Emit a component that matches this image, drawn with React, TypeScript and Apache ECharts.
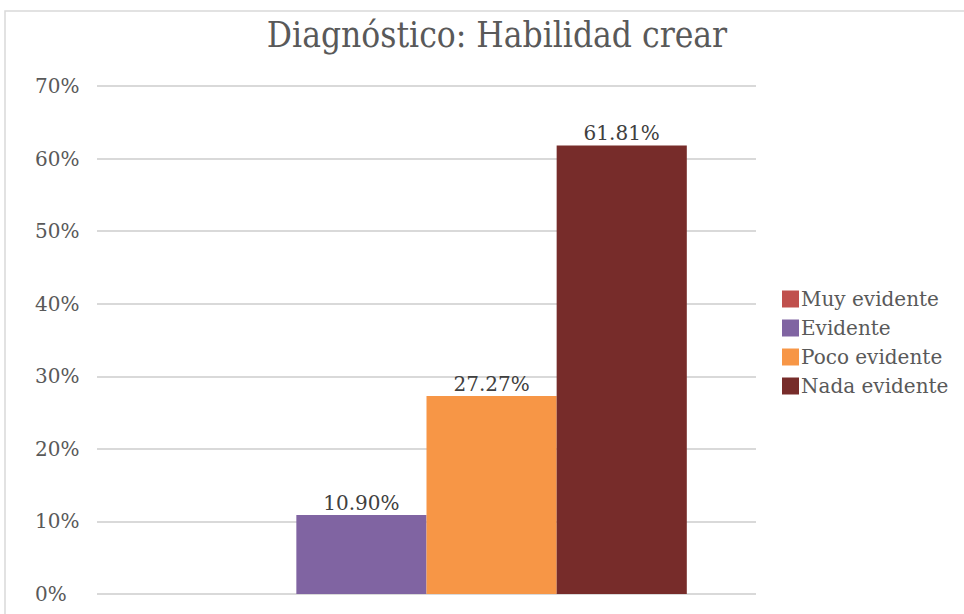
import React, { useEffect, useRef } from "react";
import * as echarts from "echarts";

const categories = [""];
const seriesNames = ["Muy evidente", "Evidente", "Poco evidente", "Nada evidente"];
const seriesValues = [0, 0.109, 0.2727, 0.6181];
const seriesColors = ["#C0504D", "#8064A2", "#F79646", "#772C2A"];
const titleText = "Diagnóstico: Habilidad crear";

const FONT = "'DejaVu Serif', serif";
const TITLE_FONT = "'DejaVu Serif Condensed', 'DejaVu Serif', serif";

export default function App() {
  const ref = useRef<HTMLDivElement>(null);
  useEffect(() => {
    if (!ref.current) return;
    const chart = echarts.init(ref.current, undefined, { renderer: "svg" });
    chart.setOption({
      animation: false,
      backgroundColor: "#ffffff",
      title: {
        text: titleText,
        left: 492,
        textAlign: "center",
        top: 12,
        textStyle: { fontFamily: TITLE_FONT, fontSize: 35, fontWeight: "normal", color: "#595959" },
      },
      graphic: [
        {
          type: "rect",
          shape: { x: 5, y: 11, width: 980, height: 620 },
          style: { fill: "none", stroke: "#d9d9d9", lineWidth: 1.5 },
          silent: true,
        },
      ],
      legend: {
        orient: "vertical",
        left: 777,
        top: 284,
        itemWidth: 17,
        itemHeight: 17,
        itemGap: 9,
        icon: "rect",
        textStyle: { fontFamily: FONT, fontSize: 20, color: "#595959", padding: [0, 0, 0, -3] },
        data: seriesNames,
      },
      grid: { left: 97, right: 208, top: 86, bottom: 20, containLabel: false },
      xAxis: {
        type: "category",
        data: categories,
        axisLine: { show: false },
        axisTick: { show: false },
        axisLabel: { show: false },
      },
      yAxis: {
        type: "value",
        min: 0,
        max: 0.7,
        interval: 0.1,
        axisLine: { show: false },
        axisTick: { show: false },
        axisLabel: {
          fontFamily: FONT,
          fontSize: 20,
          color: "#595959",
          margin: 62,
          align: "left",
          formatter: (v: number) => `${Math.round(v * 100)}%`,
        },
        splitLine: { lineStyle: { color: "#d9d9d9", width: 2 } },
      },
      series: seriesNames.map((name, i) => ({
        name,
        type: "bar",
        data: [seriesValues[i]],
        barGap: "0%",
        barCategoryGap: "21%",
        itemStyle: { color: seriesColors[i] },
        label: {
          show: seriesValues[i] > 0,
          position: "top",
          distance: 2,
          fontFamily: FONT,
          fontSize: 20,
          color: "#404040",
          formatter: (p: any) => `${(p.value * 100).toFixed(2)}%`,
        },
      })),
    });
    return () => chart.dispose();
  }, []);
  return (
    <div
      ref={ref}
      style={{ position: "fixed", left: 0, top: 0, width: 964, height: 614 }}
    />
  );
}
